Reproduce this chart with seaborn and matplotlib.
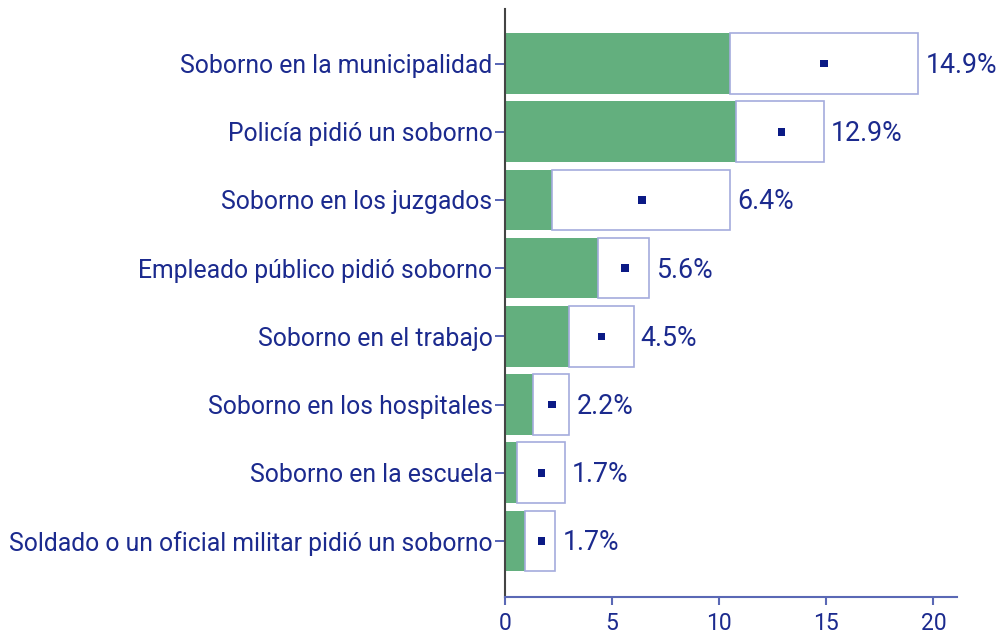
import matplotlib
matplotlib.use("Agg")
import matplotlib.pyplot as plt
import seaborn as sns
import pandas as pd

categories = [
    "Soborno en la municipalidad",
    "Policía pidió un soborno",
    "Soborno en los juzgados",
    "Empleado público pidió soborno",
    "Soborno en el trabajo",
    "Soborno en los hospitales",
    "Soborno en la escuela",
    "Soldado o un oficial militar pidió un soborno",
]
estimate = [14.9, 12.9, 6.4, 5.6, 4.5, 2.2, 1.7, 1.7]
lower = [10.5, 10.8, 2.2, 4.35, 3.0, 1.3, 0.55, 0.93]
upper = [19.3, 14.9, 10.5, 6.7, 6.0, 3.0, 2.8, 2.35]
value_labels = ["14.9%", "12.9%", "6.4%", "5.6%", "4.5%", "2.2%", "1.7%", "1.7%"]
xticks = [0, 5, 10, 15, 20]

df = pd.DataFrame({"cat": categories, "est": estimate, "lo": lower, "hi": upper})

sns.set_style("white")
plt.rcParams["font.family"] = ["Roboto", "DejaVu Sans"]

navy = "#1B2A8E"
green = "#63AF7E"
edge = "#A4ABDD"
mark = "#0B1A85"

fig = plt.figure(figsize=(10.01, 6.39), dpi=100)
ax = fig.add_axes([0.5045, 0.066, 0.4515, 0.92])

sns.barplot(data=df, x="lo", y="cat", orient="h", color=green, saturation=1,
            width=0.89, linewidth=0, ax=ax)
ax.barh(range(len(categories)), df["hi"] - df["lo"], left=df["lo"], height=0.89,
        facecolor="white", edgecolor=edge, linewidth=1.2, zorder=3)
sns.scatterplot(data=df, x="est", y="cat", marker="s", s=30, color=mark,
                edgecolor="none", ax=ax, zorder=4)

for i, (hi, lab) in enumerate(zip(upper, value_labels)):
    ax.text(hi + 0.33, i + 0.03, lab, va="center", ha="left", fontsize=19.3, color=navy)

ax.set_xlim(0, 21.1)
ax.set_ylim(7.82, -0.8)
ax.set_xticks(xticks)
ax.set_xticklabels([str(t) for t in xticks])
ax.set_xlabel("")
ax.set_ylabel("")

for s in ["top", "right"]:
    ax.spines[s].set_visible(False)
ax.spines["left"].set_color("#444444")
ax.spines["left"].set_linewidth(1.5)
ax.spines["bottom"].set_color("#5A68B5")
ax.spines["bottom"].set_linewidth(1.5)

ax.tick_params(axis="y", left=True, length=7, width=1.2, color="#3A4AA8",
               labelsize=17.8, labelcolor=navy, pad=2)
ax.tick_params(axis="x", bottom=True, length=6, width=1.5, color="#5A68B5",
               labelsize=16.5, labelcolor=navy, pad=5)

fig.savefig("out.png", dpi=100)
